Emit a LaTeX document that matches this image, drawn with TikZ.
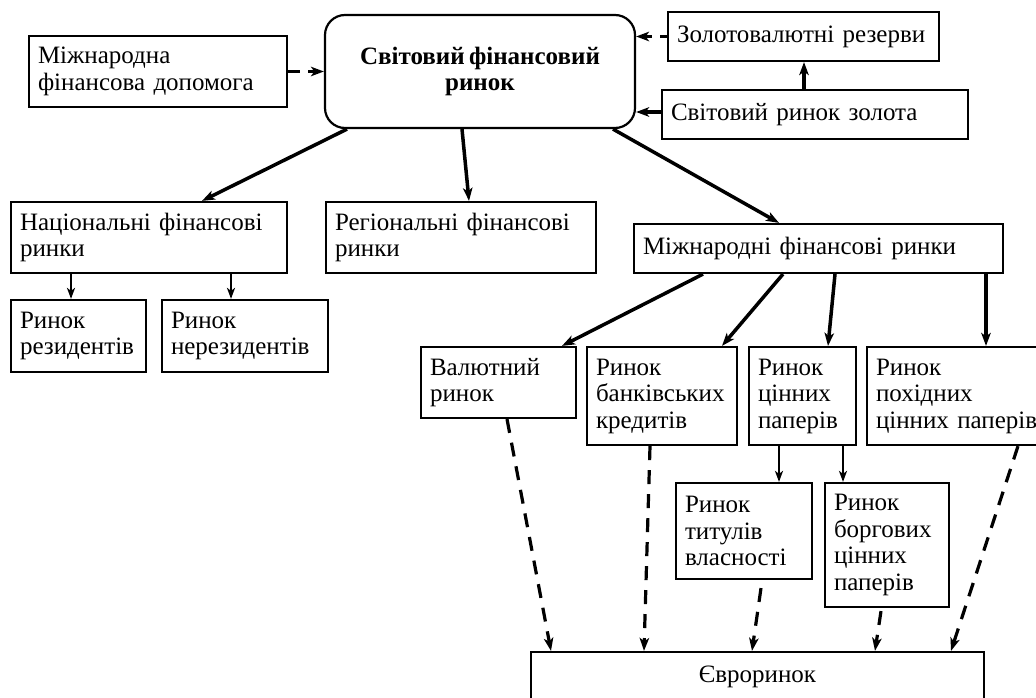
\documentclass[tikz,border=0pt]{standalone}
\usepackage{fontspec}
\setmainfont{Liberation Serif}[WordSpace=0.7]
\usetikzlibrary{arrows.meta,calc}
\newcommand\diagfont{\fontsize{25}{26.5}\selectfont}
\hyphenpenalty=10000
\exhyphenpenalty=10000
\tikzset{
  box/.style={draw, line width=2.2pt, align=left, inner xsep=9pt, inner ysep=0pt, font=\diagfont},
  tip/.style={-{Stealth[length=13pt,width=9.5pt,inset=3.5pt]}},
  thickarrow/.style={tip, line width=3.5pt},
  thinarrow/.style={-{Stealth[length=11pt,width=8pt,inset=3pt]}, line width=2.2pt},
  dasharrow/.style={tip, line width=3.2pt, dash pattern=on 14pt off 10pt},
}
\begin{document}
\begin{tikzpicture}[x=1pt,y=-1pt]
\useasboundingbox (0,0) rectangle (1036,698);

\node[box, text width=240pt, minimum height=71pt] (help) at (158,71.5) {Міжнародна\\фінансова допомога};
\node[draw, line width=2.2pt, rounded corners=20pt, minimum width=310pt, minimum height=113pt, align=center, font=\diagfont\bfseries, inner sep=0pt] (main) at (480,71.5) {Світовий фінансовий\\ринок};
\node[box, text width=253pt, minimum height=49pt] (reserves) at (803.5,36.5) {Золотовалютні резерви};
\node[box, text width=288pt, minimum height=49pt] (gold) at (815,114.5) {Світовий ринок золота};

\node[box, text width=258pt, minimum height=71pt] (national) at (149,237.5) {Національні фінансові\\ринки};
\node[box, text width=252pt, minimum height=71pt] (regional) at (461,237.5) {Регіональні фінансові\\ринки};
\node[box, text width=351pt, minimum height=49pt] (intl) at (818.5,248.5) {Міжнародні фінансові ринки};

\node[box, text width=117pt, minimum height=72pt] (resid) at (78.5,336) {Ринок\\резидентів};
\node[box, text width=148pt, minimum height=72pt] (nonresid) at (245,336) {Ринок\\нерезидентів};

\node[box, text width=137pt, minimum height=71pt] (currency) at (498.5,382.5) {Валютний\\ринок};
\node[box, text width=132pt, minimum height=98pt] (bank) at (662,396) {Ринок\\банківських\\кредитів};
\node[box, text width=89pt, minimum height=98pt] (securities) at (802.5,396) {Ринок\\цінних\\паперів};
\node[box, text width=165pt, minimum height=98pt] (deriv) at (958.5,396) {Ринок\\похідних\\цінних паперів};

\node[box, text width=118pt, minimum height=96pt] (titles) at (744,531) {Ринок\\титулів\\власності};
\node[box, text width=106pt, minimum height=124pt] (debt) at (887,545) {Ринок\\боргових\\цінних\\паперів};

\node[draw, line width=2.2pt, minimum width=453pt, minimum height=49pt, font=\diagfont, inner sep=0pt] (euro) at (757.5,676.5) {Євроринок};

% top connectors
\draw[dasharrow, dash pattern=on 12pt off 8pt] (help.east) -- (help.east -| main.west);
\draw[dasharrow, dash pattern=on 7pt off 8pt on 30pt] (reserves.west) -- (reserves.west -| main.east);
\coordinate (g1) at ([yshift=2.5pt]gold.west);
\draw[thickarrow] (g1) -- (g1 -| main.east);
\draw[thickarrow] ([xshift=-11pt]gold.north) -- ([xshift=0.5pt]reserves.south);

% from main
\draw[thickarrow] ([xshift=-133pt]main.south) -- ([xshift=53pt]national.north);
\draw[thickarrow] ([xshift=-18pt]main.south) -- ([xshift=8pt]regional.north);
\draw[thickarrow] ([xshift=133pt]main.south) -- ([xshift=-39.5pt]intl.north);

% national
\draw[thinarrow] ([xshift=-78pt]national.south) -- ([xshift=-7.5pt]resid.north);
\draw[thinarrow] ([xshift=82pt]national.south) -- ([xshift=-14pt]nonresid.north);

% international
\draw[thickarrow] ([xshift=-115.5pt]intl.south) -- ([xshift=63.5pt]currency.north);
\draw[thickarrow] ([xshift=-35.5pt]intl.south) -- ([xshift=60pt]bank.north);
\draw[thickarrow] ([xshift=16.5pt]intl.south) -- ([xshift=25.5pt]securities.north);
\draw[thickarrow] ([xshift=167.5pt]intl.south) -- ([xshift=27.5pt]deriv.north);

% securities
\draw[thinarrow] ([xshift=-23.5pt]securities.south) -- ([xshift=35pt]titles.north);
\draw[thinarrow] ([xshift=40.5pt]securities.south) -- ([xshift=-44pt]debt.north);

% to euro
\draw[dasharrow] ([xshift=8.5pt]currency.south) -- ([xshift=-206.5pt]euro.north);
\draw[dasharrow] ([xshift=-12pt]bank.south) -- ([xshift=-113.5pt]euro.north);
\draw[dasharrow] ([xshift=17pt,yshift=-8pt]titles.south) -- ([xshift=-5.5pt]euro.north);
\draw[dasharrow] ([xshift=-6pt,yshift=-3pt]debt.south) -- ([xshift=117.5pt]euro.north);
\draw[dasharrow] ([xshift=59.5pt]deriv.south) -- ([xshift=193.5pt]euro.north);
\end{tikzpicture}
\end{document}
